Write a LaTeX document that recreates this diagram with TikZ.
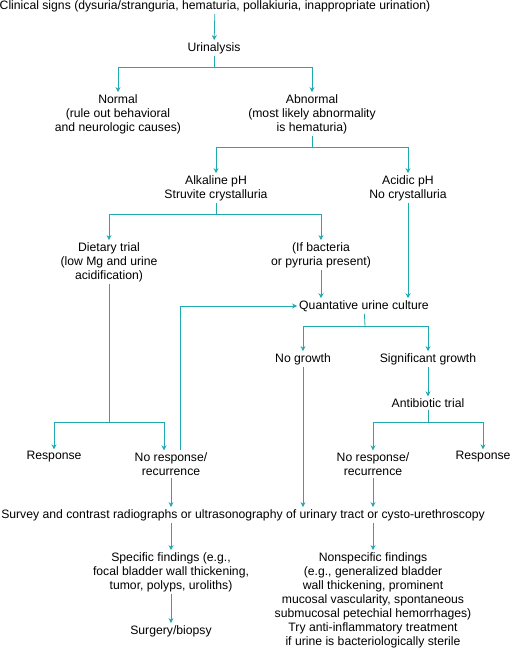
\documentclass[tikz,border=0pt]{standalone}
\usepackage{fontspec}
\setmainfont{Liberation Sans}
\usetikzlibrary{arrows.meta}
\definecolor{flowteal}{HTML}{1FA9B1}
\tikzset{
  box/.style={font=\fontsize{12.2}{14}\selectfont, align=center, inner sep=2pt},
  link/.style={flowteal, line width=0.8pt},
  arr/.style={link, -{Stealth[length=5pt,width=5pt]}}
}
\begin{document}
\begin{tikzpicture}[x=1pt,y=-1pt]
\useasboundingbox (0,0) rectangle (510,648);

\node[box] (signs) at (215,6) {Clinical signs (dysuria/stranguria, hematuria, pollakiuria, inappropriate urination)};
\node[box] (urin) at (214,48) {Urinalysis};
\node[box] (normal) at (118,114) {Normal\\(rule out behavioral\\and neurologic causes)};
\node[box] (abn) at (312,114) {Abnormal\\(most likely abnormality\\is hematuria)};
\node[box] (alk) at (216,188) {Alkaline pH\\Struvite crystalluria};
\node[box] (acid) at (408,188) {Acidic pH\\No crystalluria};
\node[box] (diet) at (109,262) {Dietary trial\\(low Mg and urine\\acidification)};
\node[box] (ifbac) at (321,255) {(If bacteria\\or pyruria present)};
\node[box] (cult) at (364,306) {Quantative urine culture};
\node[box] (nogr) at (303,359) {No growth};
\node[box] (sig) at (428,359) {Significant growth};
\node[box] (anti) at (428,403) {Antibiotic trial};
\node[box] (resp1) at (54,457) {Response};
\node[box] (nore1) at (171,464) {No response/\\recurrence};
\node[box] (nore2) at (373,464) {No response/\\recurrence};
\node[box] (resp2) at (483,457) {Response};
\node[box] (survey) at (243,515) {Survey and contrast radiographs or ultrasonography of urinary tract or cysto-urethroscopy};
\node[box] (spec) at (171,572) {Specific findings (e.g.,\\focal bladder wall thickening,\\tumor, polyps, uroliths)};
\node[box] (surg) at (171,631) {Surgery/biopsy};
\node[box] (nonspec) at (373,600) {Nonspecific findings\\(e.g., generalized bladder\\wall thickening, prominent\\mucosal vascularity, spontaneous\\submucosal petechial hemorrhages)\\Try anti-inflammatory treatment\\if urine is bacteriologically sterile};

% branch points
\coordinate (fork1) at (214,67);
\coordinate (fork2) at (312,147);
\coordinate (fork3) at (216,214);
\coordinate (fork4) at (365,326);
\coordinate (fork5) at (428,422);
\coordinate (fork6) at (109,422);

\draw[arr] (signs) -- (urin);
\draw[link] (urin) -- (fork1);
\draw[arr] (fork1) -| (normal);
\draw[arr] (fork1) -| (abn);
\draw[link] (abn) -- (fork2);
\draw[arr] (fork2) -| (alk);
\draw[arr] (fork2) -| (acid);
\draw[link] (alk) -- (fork3);
\draw[arr] (fork3) -| (diet);
\draw[arr] (fork3) -| (ifbac);
\draw[arr] (ifbac) -- (ifbac |- cult.north);
\draw[arr] (acid) -- (acid |- cult.north);
\draw[link] (cult) -- (fork4);
\draw[arr] (fork4) -| (nogr);
\draw[arr] (fork4) -| (sig);
\draw[arr] (sig) -- (anti);
\draw[link] (anti) -- (fork5);
\draw[arr] (fork5) -| (nore2);
\draw[arr] (fork5) -| (resp2);
\draw[link] (diet) -- (fork6);
\draw[arr] (fork6) -| (resp1);
\draw[arr] (fork6) -| ([xshift=-7pt]nore1.north);
\draw[arr] ([xshift=9pt]nore1.north) |- (cult);
\draw[arr] (nogr) -- (nogr |- survey.north);
\draw[arr] (nore1) -- (nore1 |- survey.north);
\draw[arr] (nore2) -- (nore2 |- survey.north);
\draw[arr] (spec |- survey.south) -- (spec);
\draw[arr] (nonspec |- survey.south) -- (nonspec);
\draw[arr] (spec) -- (surg);
\end{tikzpicture}
\end{document}
